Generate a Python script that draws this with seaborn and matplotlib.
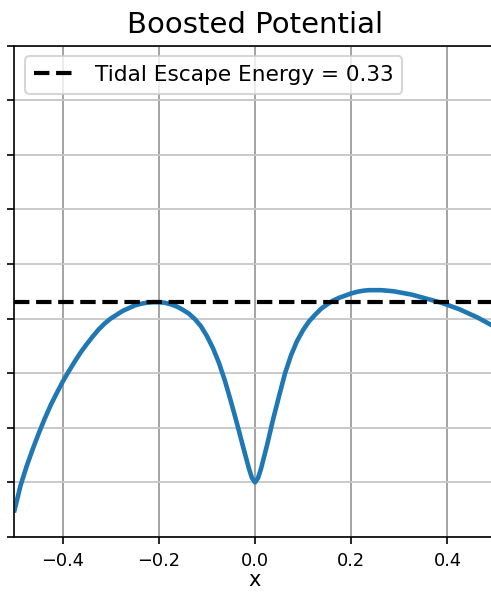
import numpy as np
import pandas as pd
import matplotlib
matplotlib.use("Agg")
import matplotlib.pyplot as plt
import seaborn as sns

# Data
x_vals = [-0.5, -0.4875, -0.475, -0.4625, -0.45, -0.4375, -0.425, -0.4125, -0.4, -0.3875,
          -0.375, -0.3625, -0.35, -0.3375, -0.325, -0.3125, -0.3, -0.2875, -0.275, -0.2625,
          -0.25, -0.2375, -0.225, -0.2125, -0.2, -0.1875, -0.175, -0.1625, -0.15, -0.1375,
          -0.125, -0.1125, -0.1, -0.0875, -0.075, -0.0625, -0.05, -0.0375, -0.025, -0.0125,
          -0.00625, 0.0, 0.00625, 0.0125, 0.025, 0.0375, 0.05, 0.0625, 0.075, 0.0875,
          0.1, 0.1125, 0.125, 0.1375, 0.15, 0.1625, 0.175, 0.1875, 0.2, 0.2125,
          0.225, 0.2375, 0.25, 0.2625, 0.275, 0.2875, 0.3, 0.3125, 0.325, 0.3375,
          0.35, 0.3625, 0.375, 0.3875, 0.4, 0.4125, 0.425, 0.4375, 0.45, 0.4625,
          0.475, 0.4875, 0.5]
potential = [-0.051, -0.006, 0.029, 0.060, 0.089, 0.116, 0.141, 0.163, 0.184, 0.203,
             0.221, 0.238, 0.253, 0.267, 0.280, 0.291, 0.300, 0.307, 0.314, 0.319,
             0.324, 0.327, 0.329, 0.330, 0.330, 0.329, 0.326, 0.322, 0.316, 0.309,
             0.299, 0.286, 0.268, 0.246, 0.219, 0.186, 0.148, 0.108, 0.066, 0.025,
             0.008, 0.0, 0.008, 0.025, 0.068, 0.115, 0.158, 0.200, 0.233, 0.259,
             0.279, 0.295, 0.307, 0.318, 0.326, 0.333, 0.338, 0.342, 0.346, 0.349,
             0.351, 0.352, 0.352, 0.352, 0.351, 0.350, 0.348, 0.346, 0.344, 0.341,
             0.338, 0.335, 0.332, 0.329, 0.325, 0.321, 0.317, 0.312, 0.307, 0.302,
             0.296, 0.290, 0.284]
escape_energy = 0.33
x_ticks = [-0.4, -0.2, 0.0, 0.2, 0.4]
y_ticks = [-0.1, 0.0, 0.1, 0.2, 0.3, 0.4, 0.5, 0.6, 0.7, 0.8]

df = pd.DataFrame({"x": x_vals, "potential": potential})

W, H, DPI = 492, 592, 150
fig = plt.figure(figsize=(W / DPI, H / DPI), dpi=DPI)
ax = fig.add_axes([14.5 / W, (H - 537) / H, 481 / W, 491.5 / H])

sns.lineplot(data=df, x="x", y="potential", ax=ax, color="#1f77b4", linewidth=2.2)
ax.axhline(escape_energy, color="black", linestyle="--", linewidth=2,
           label=f"Tidal Escape Energy = {escape_energy}")

ax.set_xlim(-0.5, 0.5)
ax.set_ylim(-0.1, 0.8)
ax.set_xticks(x_ticks)
ax.set_xticklabels([f"{t:.1f}".replace("-", "\u2212") for t in x_ticks], fontsize=8.5)
ax.set_yticks(y_ticks)
ax.tick_params(axis="y", labelleft=False)
ax.xaxis.grid(True, color="#a0a0a0", linewidth=0.9)
ax.yaxis.grid(True, color="#c8c8c8", linewidth=0.9)
ax.set_axisbelow(True)
ax.set_title("Boosted Potential", fontsize=14)
ax.set_xlabel("x", fontsize=10, labelpad=0)
ax.set_ylabel("")
ax.legend(loc="upper left", fontsize=10.4)

fig.savefig("out.png", dpi=DPI)
